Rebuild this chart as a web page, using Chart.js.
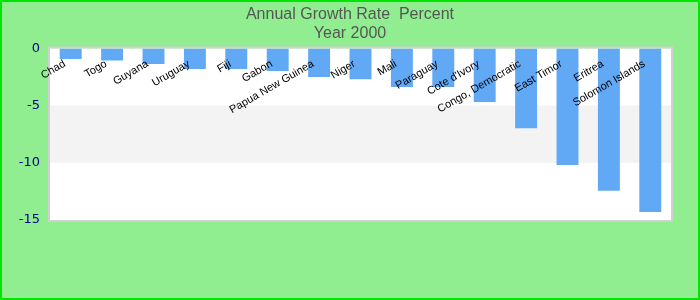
<!DOCTYPE html>
<html>
<head>
<meta charset="utf-8">
<script src="https://cdn.jsdelivr.net/npm/chart.js@4"></script>
<style>
  html, body { margin: 0; padding: 0; background: #90ee90; }
  canvas { display: block; }
</style>
</head>
<body>
<canvas id="chart" width="700" height="300"></canvas>
<script>
// Annual growth rate, percent, year 2000
const countries = ['Chad', 'Togo', 'Guyana', 'Uruguay', 'Fiji', 'Gabon', 'Papua New Guinea', 'Niger',
  'Mali', 'Paraguay', "Cote d'Ivory", 'Congo, Democratic', 'East Timor', 'Eritrea', 'Solomon Islands'];
const growthRates = [-0.93, -1.05, -1.37, -1.8, -1.8, -1.98, -2.5, -2.7,
  -3.37, -3.37, -4.68, -6.97, -10.2, -12.44, -14.3];
const yTicks = [0, -5, -10, -15];

// green page, white plot area with a grey band in every other tick interval
const bandPlugin = {
  id: 'bands',
  beforeDraw(chart) {
    const { ctx, chartArea: a, scales: { y } } = chart;
    ctx.save();
    ctx.fillStyle = '#90ee90';
    ctx.fillRect(0, 0, chart.width, chart.height);
    ctx.fillStyle = '#ffffff';
    ctx.fillRect(a.left, a.top, a.right - a.left, a.bottom - a.top);
    ctx.fillStyle = '#f3f3f3';
    for (let i = 1; i < yTicks.length - 1; i += 2) {
      const t = y.getPixelForValue(yTicks[i]);
      const b = y.getPixelForValue(yTicks[i + 1]);
      ctx.fillRect(a.left, t, a.right - a.left, b - t);
    }
    ctx.strokeStyle = '#d0d0d0';
    ctx.lineWidth = 2;
    ctx.strokeRect(a.left - 1, a.top - 1, a.right - a.left + 2, a.bottom - a.top + 2);
    ctx.restore();
  },
  afterDraw(chart) {
    const { ctx } = chart;
    ctx.save();
    ctx.strokeStyle = '#00e600';
    ctx.lineWidth = 2;
    ctx.strokeRect(1, 1, chart.width - 2, chart.height - 2);
    ctx.restore();
  }
};

new Chart(document.getElementById('chart'), {
  type: 'bar',
  data: {
    labels: countries,
    datasets: [{
      data: growthRates,
      backgroundColor: '#62a9f5',
      borderWidth: 0,
      barPercentage: 0.53,
      categoryPercentage: 1
    }]
  },
  options: {
    responsive: false,
    animation: false,
    layout: { padding: { left: 0, right: 0, top: 0, bottom: 80 } },
    plugins: {
      legend: { display: false },
      tooltip: { enabled: false },
      title: {
        display: true,
        text: ['Annual Growth Rate  Percent', 'Year 2000'],
        color: '#555555',
        font: { family: 'Liberation Sans', size: 16, weight: 'normal' },
        padding: { top: 5, bottom: 5 }
      }
    },
    scales: {
      x: {
        position: { y: 0 },
        grid: { display: false },
        border: { display: false },
        ticks: {
          z: 1,
          color: '#000000',
          font: { family: 'Liberation Sans', size: 11 },
          minRotation: 30,
          maxRotation: 30,
          padding: 1,
          labelOffset: -6,
          autoSkip: false
        }
      },
      y: {
        min: -15,
        max: 0,
        grid: { display: false, drawTicks: false },
        border: { display: false },
        ticks: {
          stepSize: 5,
          color: '#00008b',
          font: { family: 'DejaVu Sans', size: 13 },
          padding: 10
        },
        afterFit(s) { s.width = 50; }
      },
      // empty right axis, only keeps the right margin without shifting the title
      yRight: {
        position: 'right',
        grid: { display: false },
        border: { display: false },
        ticks: { display: false },
        afterFit(s) { s.width = 29; }
      }
    }
  },
  plugins: [bandPlugin]
});
</script>
</body>
</html>
